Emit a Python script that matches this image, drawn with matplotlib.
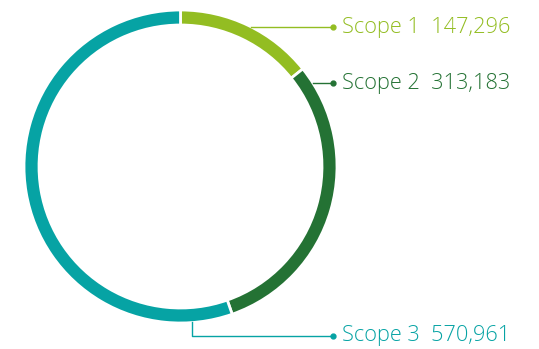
import matplotlib
matplotlib.use("Agg")
import matplotlib.pyplot as plt
import numpy as np

labels = ["Scope 1", "Scope 2", "Scope 3"]
values = [147296, 313183, 570961]
colors = ["#93bd22", "#247234", "#06a3a4"]

W, H = 539, 349
CX, CY = 180.5, H - 166.5
R = 156.5
RING = 15

fig = plt.figure(figsize=(W / 100, H / 100), dpi=100)
ax = fig.add_axes([0, 0, 1, 1])
ax.set_xlim(0, W)
ax.set_ylim(0, H)
ax.set_aspect("equal")
ax.axis("off")

ax.pie(values, colors=colors, startangle=90, counterclock=False,
       center=(CX, CY), radius=R,
       wedgeprops=dict(width=RING, edgecolor="white", linewidth=2))
ax.set_xlim(0, W)
ax.set_ylim(0, H)

# label rows (y from top), line end / text x
label_y = [27, 83, 336]
dot_x = 333
text_x = 342

for i, (lab, val, col) in enumerate(zip(labels, values, colors)):
    y = H - label_y[i]
    txt = f"{lab}  {val:,}"
    if i < 2:
        dy = y - CY
        x0 = CX + np.sqrt(R ** 2 - dy ** 2)
        ax.plot([x0, dot_x], [y, y], color=col, lw=1)
    else:
        vx = 192
        y0 = CY - np.sqrt(R ** 2 - (vx - CX) ** 2) + 1
        ax.plot([vx, vx, dot_x], [y0, y, y], color=col, lw=1)
    ax.plot(dot_x, y, "o", color=col, ms=3.5)
    ax.text(text_x, y, txt, color=col, fontsize=15.7, family="Open Sans",
            fontweight="light", va="center", ha="left")

fig.savefig("out.png", dpi=100)
